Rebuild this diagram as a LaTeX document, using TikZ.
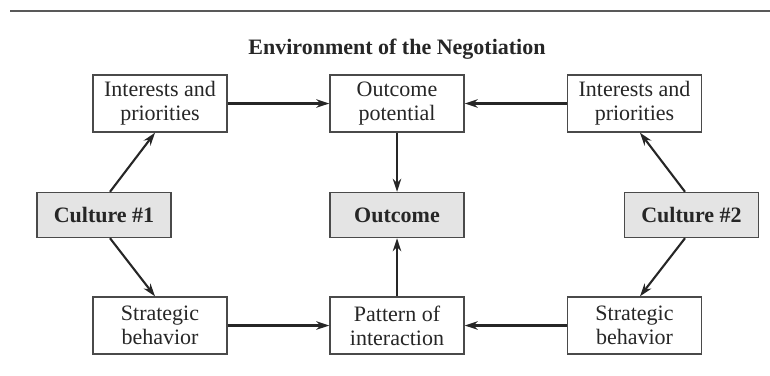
\documentclass[tikz,border=0pt]{standalone}
\usepackage{fontspec}
\setmainfont{Liberation Serif}
\usetikzlibrary{arrows.meta}
\definecolor{boxline}{HTML}{4A4A4A}
\definecolor{arrowline}{HTML}{262626}
\definecolor{shade}{HTML}{E4E4E4}
\begin{document}
\begin{tikzpicture}[x=1pt,y=-1pt,
  box/.style={draw=boxline, line width=1.4pt, fill=white, minimum width=134pt, minimum height=57pt,
    align=center, inner sep=0pt, font=\fontsize{22}{24}\selectfont, text=black!85},
  shadebox/.style={box, fill=shade, minimum height=45pt, font=\fontsize{22}{24}\selectfont\bfseries},
  conn/.style={draw=arrowline, line width=2.1pt, -{Stealth[length=13pt,width=8.5pt]}}]
\useasboundingbox (0,0) rectangle (770,375);
\coordinate (ruleL) at (10,11);
\coordinate (ruleR) at (770,11);
\draw[line width=1.5pt, draw=black!65] (ruleL) -- (ruleR);
\node[font=\fontsize{22}{24}\selectfont\bfseries, text=black!85] (title) at (397,49) {Environment of the Negotiation};
\node[box] (ip1) at (160,103.5) {Interests and\\priorities};
\node[box] (op) at (397,103.5) {Outcome\\potential};
\node[box] (ip2) at (634.5,103.5) {Interests and\\priorities};
\node[shadebox] (c1) at (104,215) {Culture \#1};
\node[shadebox] (out) at (397,215) {Outcome};
\node[shadebox] (c2) at (691.5,215) {Culture \#2};
\node[box] (sb1) at (160,325.5) {Strategic\\behavior};
\node[box] (pi) at (397,325.5) {Pattern of\\interaction};
\node[box] (sb2) at (634.5,325.5) {Strategic\\behavior};
\draw[conn] (c1.north -| 110,0) -- (ip1.south -| 155,0);
\draw[conn] (c1.south -| 110,0) -- (sb1.north -| 155,0);
\draw[conn] (c2.north -| 685,0) -- (ip2.south -| 640,0);
\draw[conn] (c2.south -| 685,0) -- (sb2.north -| 640,0);
\draw[conn] (ip1) -- (op);
\draw[conn] (ip2) -- (op);
\draw[conn] (sb1) -- (pi);
\draw[conn] (sb2) -- (pi);
\draw[conn] (op) -- (out);
\draw[conn] (pi) -- (out);
\end{tikzpicture}
\end{document}
